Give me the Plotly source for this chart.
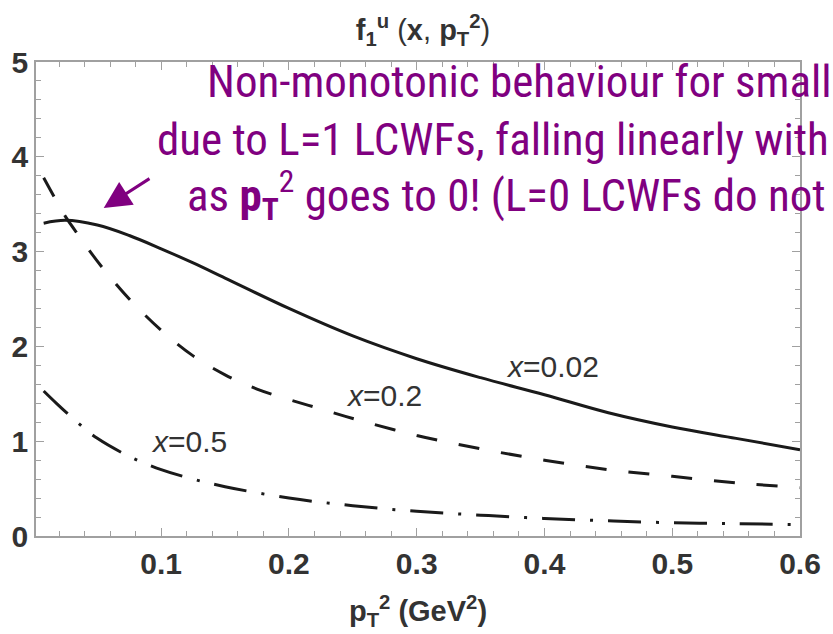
import plotly.graph_objects as go

# ---- data ----
pt2 = [0.008, 0.025, 0.05, 0.075, 0.1, 0.125, 0.15, 0.2, 0.25, 0.3, 0.35, 0.4, 0.45, 0.5, 0.55, 0.6]
f_x002 = [3.30, 3.33, 3.28, 3.17, 3.03, 2.88, 2.72, 2.40, 2.11, 1.87, 1.67, 1.49, 1.30, 1.15, 1.03, 0.91]
pt2_b = [0.008, 0.017, 0.026, 0.036, 0.046, 0.057, 0.075, 0.1, 0.125, 0.15, 0.175, 0.2, 0.225, 0.25, 0.3, 0.35, 0.4, 0.45, 0.5, 0.55, 0.6]
f_x02 = [3.78, 3.56, 3.35, 3.16, 2.97, 2.78, 2.50, 2.17, 1.90, 1.70, 1.55, 1.44, 1.34, 1.24, 1.06, 0.92, 0.80, 0.70, 0.63, 0.56, 0.51]
pt2_c = [0.008, 0.018, 0.036, 0.05, 0.075, 0.1, 0.125, 0.15, 0.2, 0.25, 0.3, 0.35, 0.4, 0.45, 0.5, 0.55, 0.6]
f_x05 = [1.53, 1.40, 1.18, 1.03, 0.84, 0.70, 0.60, 0.52, 0.40, 0.32, 0.26, 0.22, 0.185, 0.16, 0.14, 0.13, 0.12]

curve_labels = ["<i>x</i>=0.02", "<i>x</i>=0.2", "<i>x</i>=0.5"]
label_pos = [(0.406, 1.79), (0.274, 1.48), (0.122, 1.00)]

note_lines = [
    "Non-monotonic behaviour for small x",
    "due to L=1 LCWFs, falling linearly with",
    "as <b>p</b><sub><b>T</b></sub><sup>2</sup> goes to 0! (L=0 LCWFs do not",
]
note_x_px = [207, 157, 187]
note_baseline_px = [98, 156, 212]

# ---- layout geometry ----
W, H = 833, 634
L, R, T, B = 36, 22, 62, 95
pw, ph = W - L - R, H - T - B

fig = go.Figure()
line_col = "#1a1a1a"
fig.add_trace(go.Scatter(x=pt2, y=f_x002, mode="lines", line=dict(color=line_col, width=3, shape="spline"), hoverinfo="skip"))
fig.add_trace(go.Scatter(x=pt2_b, y=f_x02, mode="lines", line=dict(color=line_col, width=3, dash="21px,22px", shape="spline"), hoverinfo="skip"))
fig.add_trace(go.Scatter(x=pt2_c, y=f_x05, mode="lines", line=dict(color=line_col, width=3, dash="33px,15px,3px,15px", shape="spline"), hoverinfo="skip"))

for txt, (lx, ly) in zip(curve_labels, label_pos):
    fig.add_annotation(x=lx, y=ly, text=txt, showarrow=False,
                       font=dict(family="Liberation Sans", size=30, color="#333333"))

purple = "#800080"
note_font = dict(family="Roboto Condensed, Liberation Sans Narrow, sans-serif", size=45, color=purple)
for txt, px, bl in zip(note_lines, note_x_px, note_baseline_px):
    fig.add_annotation(xref="paper", yref="paper",
                       x=(px - L) / pw, y=(H - B - (bl - 16)) / ph,
                       xanchor="left", yanchor="middle", text=txt, showarrow=False,
                       font=note_font)

# arrow
fig.add_annotation(x=0.055, y=3.46, ax=0.092, ay=3.78, axref="x", ayref="y",
                   text="", showarrow=True, arrowhead=2, arrowsize=1.8,
                   arrowwidth=3, arrowcolor=purple)

axis_common = dict(showline=True, linecolor="#a0a0a0", linewidth=1.5, mirror="ticks",
                   ticks="inside", ticklen=8, tickcolor="#a0a0a0", tickwidth=1,
                   showgrid=False, zeroline=False,
                   tickfont=dict(family="Liberation Sans", size=30, color="#333333", weight="bold"))

fig.update_xaxes(range=[0.002, 0.6], tick0=0, dtick=0.1,
                 minor=dict(ticks="inside", dtick=0.02, tick0=0, ticklen=5, tickcolor="#a0a0a0"),
                 title=dict(text="<b>p</b><sub><b>T</b></sub><sup><b>2</b></sup> <b>(GeV</b><sup><b>2</b></sup><b>)</b>",
                            font=dict(family="Liberation Sans", size=29, color="#333333"), standoff=22),
                 **axis_common)
fig.update_yaxes(range=[0, 5], tick0=0, dtick=1,
                 minor=dict(ticks="inside", dtick=0.2, tick0=0, ticklen=5, tickcolor="#a0a0a0"),
                 **axis_common)

fig.update_layout(
    width=W, height=H, margin=dict(l=L, r=R, t=T, b=B),
    paper_bgcolor="white", plot_bgcolor="white", showlegend=False,
    title=dict(text="<b>f</b><sub><b>1</b></sub><sup><b>u</b></sup> (<b>x</b>, <b>p</b><sub><b>T</b></sub><sup><b>2</b></sup>)",
               x=(423) / W, xanchor="center", y=1 - 30 / H, yanchor="middle",
               font=dict(family="Liberation Sans", size=29, color="#333333")),
)

fig.write_html("out.html")
